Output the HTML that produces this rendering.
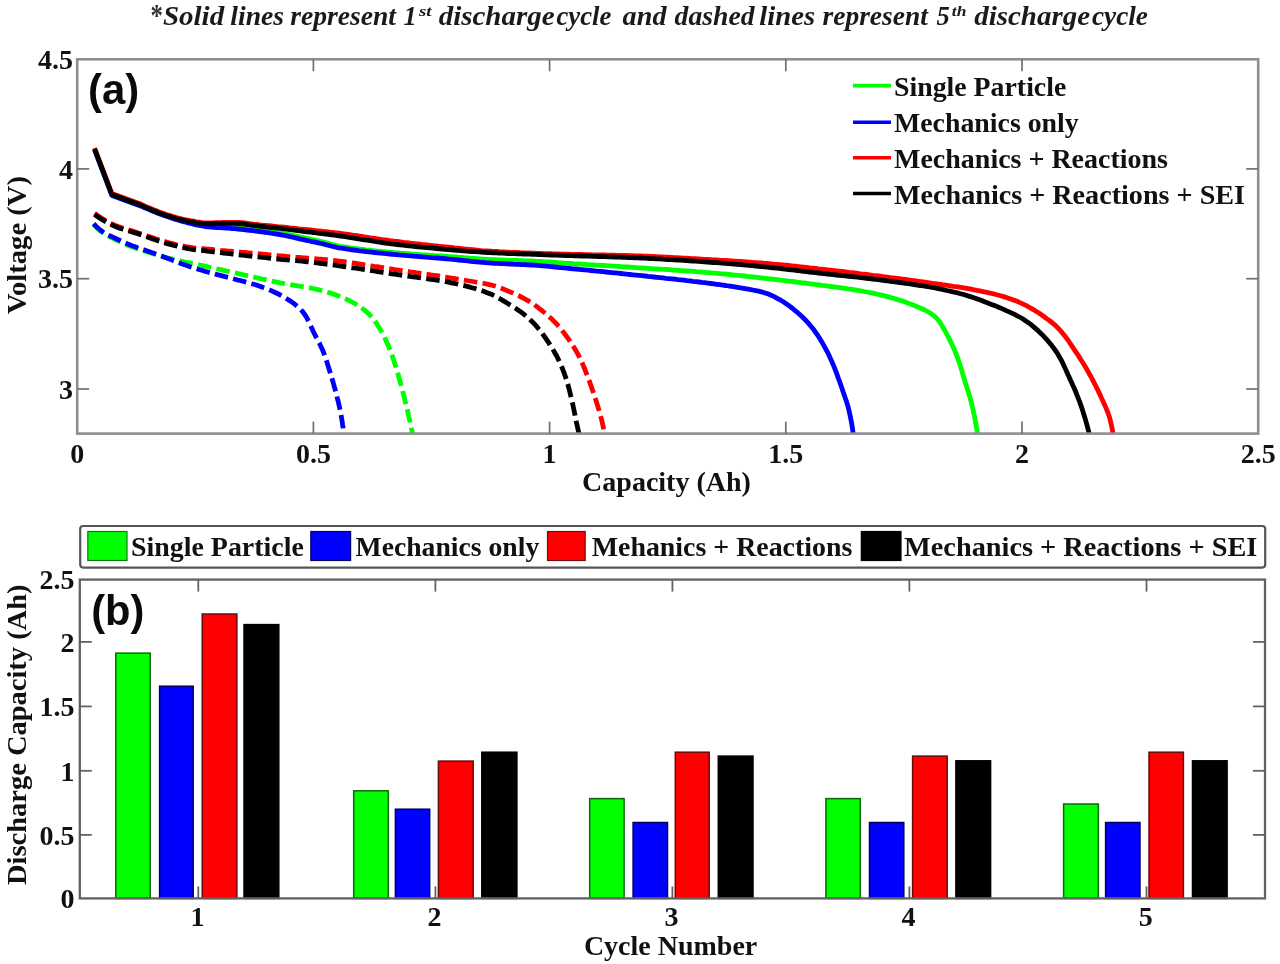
<!DOCTYPE html>
<html lang="en">
<head>
<meta charset="utf-8">
<title>Discharge curves and capacity per cycle</title>
<style>
html, body { margin: 0; padding: 0; background: #ffffff; }
body { width: 1280px; height: 964px; overflow: hidden; font-family: "Liberation Serif", serif; }
svg { display: block; filter: blur(0.55px); }
</style>
</head>
<body>
<svg width="1280" height="964" viewBox="0 0 1280 964">
<rect x="0" y="0" width="1280" height="964" fill="#ffffff"/>
<g font-family="'Liberation Serif', serif" font-weight="bold" font-style="italic" font-size="26.5" fill="#1a1a1a">
<text x="162.9" y="24.6" textLength="61.3" lengthAdjust="spacingAndGlyphs">Solid</text>
<text x="230.3" y="24.6" textLength="53.8" lengthAdjust="spacingAndGlyphs">lines</text>
<text x="290.2" y="24.6" textLength="105.7" lengthAdjust="spacingAndGlyphs">represent</text>
<text x="438.7" y="24.6" textLength="115.8" lengthAdjust="spacingAndGlyphs">discharge</text>
<text x="556.5" y="24.6" textLength="54.8" lengthAdjust="spacingAndGlyphs">cycle</text>
<text x="622.6" y="24.6" textLength="43.9" lengthAdjust="spacingAndGlyphs">and</text>
<text x="674.6" y="24.6" textLength="80.0" lengthAdjust="spacingAndGlyphs">dashed</text>
<text x="759.3" y="24.6" textLength="55.9" lengthAdjust="spacingAndGlyphs">lines</text>
<text x="822.6" y="24.6" textLength="105.2" lengthAdjust="spacingAndGlyphs">represent</text>
<text x="974.2" y="24.6" textLength="115.8" lengthAdjust="spacingAndGlyphs">discharge</text>
<text x="1092.0" y="24.6" textLength="55.9" lengthAdjust="spacingAndGlyphs">cycle</text>
<text x="150.4" y="26.0" font-weight="bold" font-style="normal" font-size="31" fill="#333333" textLength="12.4" lengthAdjust="spacingAndGlyphs">*</text>
<text x="403.5" y="24.6">1</text>
<text x="419" y="15.600000000000001" font-size="15.5" textLength="12.6" lengthAdjust="spacingAndGlyphs">st</text>
<text x="936.5" y="24.6">5</text>
<text x="951.8" y="15.600000000000001" font-size="15.5" textLength="14.6" lengthAdjust="spacingAndGlyphs">th</text>
</g>
<g id="plot-a">
<clipPath id="clipA"><rect x="77.2" y="59.3" width="1181.0" height="374.3"/></clipPath>
<g clip-path="url(#clipA)" fill="none" stroke-linejoin="round">
<path d="M94.6,149.5 L111.9,195.1 L141.9,206.1 L144.6,207.4 L147.4,208.6 L150.2,209.8 L152.9,211.0 L155.7,212.1 L158.6,213.2 L161.4,214.2 L164.2,215.2 L167.1,216.2 L169.9,217.1 L172.8,218.0 L175.7,218.9 L178.6,219.7 L181.5,220.4 L184.4,221.2 L187.4,221.9 L190.3,222.5 L193.3,223.2 L196.2,223.8 L199.2,224.4 L202.2,224.9 L205.1,225.3 L208.1,225.7 L211.1,225.9 L214.1,226.1 L217.1,226.3 L220.1,226.5 L223.1,226.6 L226.2,226.8 L229.2,227.0 L232.2,227.2 L235.2,227.4 L238.2,227.7 L241.2,228.0 L244.2,228.4 L247.2,228.7 L250.1,229.1 L253.1,229.5 L256.1,229.9 L259.1,230.3 L262.1,230.7 L265.1,231.0 L268.1,231.4 L271.1,231.8 L274.1,232.2 L277.1,232.6 L280.0,233.0 L283.0,233.5 L286.0,234.0 L288.9,234.5 L291.9,235.1 L294.8,235.8 L297.8,236.4 L300.7,237.1 L303.7,237.7 L306.6,238.3 L309.6,238.9 L312.5,239.5 L315.5,240.2 L318.4,240.8 L321.3,241.5 L324.3,242.3 L327.2,243.1 L330.1,243.9 L333.0,244.7 L335.9,245.4 L338.9,246.0 L341.8,246.5 L344.8,247.0 L347.7,247.4 L350.7,247.9 L353.7,248.3 L356.7,248.7 L359.7,249.1 L362.7,249.4 L365.7,249.8 L368.7,250.1 L371.7,250.5 L374.7,250.8 L377.7,251.1 L380.7,251.4 L383.7,251.7 L386.7,252.0 L389.7,252.2 L392.7,252.5 L395.7,252.8 L398.7,253.0 L401.7,253.3 L404.7,253.5 L407.7,253.7 L410.7,254.0 L413.7,254.2 L416.7,254.4 L419.7,254.6 L422.7,254.8 L425.7,255.0 L428.7,255.2 L431.8,255.4 L434.8,255.6 L437.8,255.8 L440.8,256.0 L443.8,256.2 L446.8,256.4 L449.8,256.6 L452.8,256.8 L455.8,257.0 L458.8,257.3 L461.8,257.5 L464.8,257.8 L467.8,258.0 L470.8,258.3 L473.8,258.5 L476.8,258.7 L479.8,258.9 L482.8,259.1 L485.8,259.3 L488.9,259.5 L491.9,259.6 L494.9,259.7 L497.9,259.9 L500.9,260.0 L503.9,260.1 L506.9,260.2 L509.9,260.3 L512.9,260.4 L515.9,260.5 L519.0,260.6 L522.0,260.7 L525.0,260.8 L528.0,260.9 L531.0,261.0 L534.0,261.1 L537.0,261.3 L540.0,261.4 L543.0,261.6 L546.0,261.8 L549.1,262.0 L552.1,262.2 L555.1,262.4 L558.1,262.7 L561.1,262.9 L564.1,263.1 L567.1,263.3 L570.1,263.5 L573.1,263.7 L576.1,263.8 L579.1,264.0 L582.1,264.2 L585.1,264.4 L588.1,264.6 L591.1,264.8 L594.1,265.0 L597.2,265.1 L600.2,265.3 L603.2,265.5 L606.2,265.7 L609.2,265.9 L612.2,266.1 L615.2,266.2 L618.2,266.4 L621.2,266.6 L624.2,266.8 L627.2,267.0 L630.2,267.2 L633.2,267.4 L636.2,267.6 L639.3,267.8 L642.3,268.0 L645.3,268.2 L648.3,268.4 L651.3,268.6 L654.3,268.8 L657.3,269.0 L660.3,269.2 L663.3,269.4 L666.3,269.5 L669.3,269.7 L672.3,270.0 L675.3,270.2 L678.3,270.4 L681.3,270.6 L684.4,270.8 L687.4,271.0 L690.4,271.2 L693.4,271.4 L696.4,271.7 L699.4,271.9 L702.4,272.1 L705.4,272.4 L708.4,272.6 L711.4,272.9 L714.4,273.1 L717.4,273.4 L720.4,273.7 L723.4,273.9 L726.4,274.2 L729.4,274.5 L732.4,274.8 L735.4,275.1 L738.4,275.4 L741.4,275.7 L744.4,276.0 L747.4,276.4 L750.4,276.7 L753.4,277.0 L756.4,277.3 L759.3,277.7 L762.3,278.0 L765.3,278.3 L768.3,278.7 L771.3,279.0 L774.3,279.3 L777.3,279.7 L780.3,280.1 L783.3,280.4 L786.3,280.8 L789.3,281.2 L792.3,281.5 L795.3,281.9 L798.2,282.3 L801.2,282.7 L804.2,283.0 L807.2,283.4 L810.2,283.8 L813.2,284.2 L816.2,284.6 L819.2,285.0 L822.1,285.4 L825.1,285.7 L828.1,286.1 L831.1,286.5 L834.1,286.9 L837.1,287.3 L840.1,287.7 L843.1,288.1 L846.1,288.5 L849.0,289.0 L852.0,289.4 L855.0,289.9 L857.9,290.4 L860.9,290.9 L863.9,291.5 L866.8,292.0 L869.8,292.6 L872.8,293.2 L875.7,293.9 L878.6,294.5 L881.6,295.2 L884.5,295.9 L887.4,296.6 L890.3,297.4 L893.3,298.2 L896.2,299.1 L899.1,300.0 L901.9,300.9 L904.8,301.8 L907.6,302.9 L910.4,303.9 L913.2,305.0 L916.1,306.2 L919.0,307.4 L921.9,308.7 L924.7,310.0 L927.4,311.5 L930.0,313.0 L932.4,314.6 L934.6,316.3 L936.6,318.2 L938.5,320.4 L940.3,322.8 L941.9,325.4 L943.5,328.2 L945.0,330.9 L946.5,333.7 L947.9,336.3 L949.3,339.0 L950.6,341.7 L952.0,344.4 L953.2,347.1 L954.4,349.9 L955.6,352.7 L956.7,355.5 L957.8,358.3 L958.7,361.1 L959.7,364.0 L960.6,366.9 L961.5,369.7 L962.4,372.6 L963.2,375.5 L964.1,378.4 L964.9,381.3 L965.8,384.2 L966.7,387.1 L967.7,389.9 L968.6,392.8 L969.5,395.7 L970.3,398.6 L971.1,401.5 L971.9,404.4 L972.5,407.3 L973.2,410.3 L973.8,413.2 L974.5,416.1 L975.0,419.1 L975.6,422.1 L976.1,425.0 L976.6,428.0 L977.1,431.0 L977.5,434.0" stroke="#00ff00" stroke-width="4.8"/>
<path d="M94.6,149.8 L111.9,195.4 L141.9,206.4 L144.7,207.7 L147.4,208.9 L150.2,210.1 L153.0,211.2 L155.8,212.4 L158.6,213.4 L161.4,214.5 L164.2,215.5 L167.1,216.5 L169.9,217.5 L172.8,218.4 L175.7,219.4 L178.6,220.2 L181.5,221.1 L184.4,221.8 L187.3,222.6 L190.2,223.3 L193.2,224.1 L196.1,224.8 L199.1,225.4 L202.0,226.0 L205.0,226.5 L208.0,226.8 L211.0,227.1 L214.0,227.4 L217.0,227.6 L220.0,227.7 L223.0,227.9 L226.0,228.1 L229.0,228.2 L232.0,228.5 L235.0,228.7 L238.0,229.0 L241.0,229.3 L244.0,229.6 L247.0,230.0 L250.0,230.3 L253.0,230.7 L256.0,231.1 L259.0,231.5 L262.0,231.9 L265.0,232.3 L268.0,232.7 L271.0,233.2 L273.9,233.6 L276.9,234.1 L279.9,234.6 L282.9,235.2 L285.8,235.7 L288.8,236.3 L291.7,237.0 L294.6,237.7 L297.6,238.4 L300.5,239.1 L303.4,239.7 L306.4,240.4 L309.4,241.0 L312.3,241.6 L315.3,242.2 L318.2,242.8 L321.2,243.5 L324.1,244.2 L327.0,245.0 L329.9,245.7 L332.9,246.5 L335.8,247.2 L338.7,247.8 L341.7,248.2 L344.7,248.7 L347.6,249.2 L350.6,249.6 L353.6,250.0 L356.6,250.4 L359.6,250.8 L362.6,251.1 L365.6,251.5 L368.6,251.8 L371.6,252.2 L374.6,252.5 L377.6,252.8 L380.6,253.1 L383.6,253.4 L386.6,253.7 L389.6,254.0 L392.6,254.3 L395.6,254.6 L398.6,254.9 L401.6,255.1 L404.6,255.4 L407.6,255.7 L410.6,255.9 L413.6,256.2 L416.6,256.4 L419.6,256.6 L422.7,256.9 L425.7,257.1 L428.7,257.3 L431.7,257.6 L434.7,257.8 L437.7,258.0 L440.7,258.3 L443.7,258.5 L446.7,258.8 L449.7,259.1 L452.7,259.4 L455.7,259.7 L458.7,260.0 L461.7,260.3 L464.7,260.6 L467.7,260.9 L470.7,261.3 L473.7,261.6 L476.7,261.9 L479.7,262.2 L482.7,262.4 L485.7,262.7 L488.7,262.9 L491.7,263.1 L494.7,263.3 L497.7,263.4 L500.8,263.6 L503.8,263.7 L506.8,263.9 L509.8,264.0 L512.8,264.2 L515.8,264.3 L518.8,264.4 L521.8,264.6 L524.9,264.7 L527.9,264.9 L530.9,265.0 L533.9,265.2 L536.9,265.4 L539.9,265.6 L542.9,265.8 L545.9,266.1 L548.9,266.4 L551.9,266.7 L554.9,267.0 L557.9,267.3 L560.9,267.6 L563.9,267.9 L566.9,268.2 L569.9,268.5 L572.9,268.8 L575.9,269.0 L578.9,269.3 L581.9,269.6 L584.9,269.9 L587.9,270.2 L590.9,270.5 L593.9,270.8 L596.9,271.1 L599.9,271.4 L602.9,271.7 L605.9,272.0 L608.9,272.3 L611.9,272.6 L614.9,272.9 L617.9,273.2 L620.9,273.5 L623.9,273.8 L626.9,274.2 L629.9,274.5 L632.9,274.8 L635.9,275.1 L638.9,275.4 L641.9,275.7 L644.9,276.0 L647.9,276.4 L650.9,276.7 L653.9,277.0 L656.9,277.3 L659.9,277.6 L662.9,277.9 L665.9,278.3 L668.9,278.6 L671.9,278.9 L674.9,279.2 L677.9,279.6 L680.9,279.9 L683.9,280.2 L686.9,280.6 L689.9,280.9 L692.9,281.3 L695.9,281.6 L698.9,282.0 L701.9,282.4 L704.9,282.7 L707.9,283.1 L710.8,283.5 L713.8,283.9 L716.8,284.3 L719.8,284.7 L722.8,285.1 L725.8,285.5 L728.8,286.0 L731.8,286.4 L734.8,286.8 L737.7,287.3 L740.7,287.8 L743.7,288.3 L746.6,288.8 L749.6,289.4 L752.6,290.0 L755.6,290.6 L758.5,291.2 L761.5,291.9 L764.3,292.7 L767.2,293.6 L770.0,294.7 L772.7,295.9 L775.5,297.3 L778.1,298.8 L780.7,300.2 L783.3,301.8 L785.8,303.5 L788.3,305.2 L790.7,307.0 L793.1,308.9 L795.4,310.8 L797.7,312.7 L800.0,314.8 L802.2,316.8 L804.4,319.0 L806.5,321.2 L808.6,323.4 L810.5,325.7 L812.4,328.0 L814.2,330.3 L815.9,332.8 L817.6,335.2 L819.3,337.8 L820.9,340.4 L822.4,343.0 L823.9,345.6 L825.4,348.3 L826.8,351.0 L828.2,353.7 L829.5,356.4 L830.7,359.1 L831.9,361.8 L833.1,364.6 L834.3,367.4 L835.4,370.2 L836.5,373.0 L837.5,375.9 L838.5,378.7 L839.6,381.6 L840.6,384.4 L841.6,387.3 L842.5,390.1 L843.5,393.0 L844.5,395.8 L845.5,398.7 L846.5,401.6 L847.4,404.5 L848.2,407.4 L848.9,410.3 L849.6,413.2 L850.2,416.1 L850.8,419.1 L851.4,422.0 L851.9,425.0 L852.4,428.0 L852.8,431.0 L853.2,434.0" stroke="#0000ff" stroke-width="4.8"/>
<path d="M94.6,148.0 L111.9,193.6 L141.9,204.6 L144.6,205.9 L147.4,207.1 L150.2,208.3 L153.0,209.5 L155.8,210.6 L158.6,211.7 L161.4,212.7 L164.2,213.7 L167.1,214.7 L170.0,215.6 L172.9,216.5 L175.8,217.4 L178.7,218.2 L181.6,218.9 L184.6,219.5 L187.5,220.1 L190.5,220.7 L193.5,221.2 L196.4,221.8 L199.4,222.2 L202.4,222.6 L205.4,222.8 L208.5,222.8 L211.5,222.8 L214.5,222.7 L217.5,222.6 L220.5,222.6 L223.5,222.5 L226.6,222.4 L229.6,222.3 L232.6,222.3 L235.6,222.3 L238.6,222.5 L241.6,222.7 L244.6,223.0 L247.6,223.4 L250.6,223.8 L253.6,224.2 L256.6,224.5 L259.6,224.9 L262.6,225.2 L265.6,225.4 L268.6,225.7 L271.6,226.0 L274.6,226.3 L277.6,226.6 L280.6,226.8 L283.6,227.1 L286.6,227.4 L289.6,227.8 L292.6,228.1 L295.6,228.4 L298.6,228.8 L301.6,229.1 L304.6,229.4 L307.6,229.7 L310.6,230.0 L313.6,230.3 L316.6,230.7 L319.6,231.0 L322.6,231.3 L325.6,231.6 L328.6,232.0 L331.6,232.3 L334.6,232.7 L337.6,233.0 L340.6,233.4 L343.6,233.8 L346.6,234.2 L349.6,234.6 L352.6,235.1 L355.5,235.5 L358.5,235.9 L361.5,236.4 L364.5,236.9 L367.5,237.3 L370.5,237.8 L373.4,238.2 L376.4,238.7 L379.4,239.1 L382.4,239.6 L385.4,240.0 L388.4,240.4 L391.4,240.8 L394.4,241.2 L397.3,241.5 L400.3,241.9 L403.3,242.3 L406.3,242.6 L409.3,243.0 L412.3,243.3 L415.3,243.7 L418.3,244.0 L421.3,244.4 L424.3,244.7 L427.3,245.0 L430.3,245.3 L433.3,245.7 L436.3,246.0 L439.3,246.3 L442.3,246.6 L445.3,246.9 L448.3,247.2 L451.3,247.5 L454.3,247.9 L457.3,248.2 L460.3,248.5 L463.3,248.8 L466.3,249.1 L469.3,249.4 L472.3,249.7 L475.3,250.0 L478.3,250.3 L481.3,250.6 L484.3,250.8 L487.4,251.0 L490.4,251.2 L493.4,251.4 L496.4,251.5 L499.4,251.7 L502.4,251.8 L505.4,252.0 L508.4,252.1 L511.4,252.3 L514.5,252.4 L517.5,252.5 L520.5,252.7 L523.5,252.8 L526.5,252.9 L529.5,253.0 L532.6,253.1 L535.6,253.2 L538.6,253.4 L541.6,253.5 L544.6,253.6 L547.6,253.6 L550.6,253.7 L553.7,253.8 L556.7,253.9 L559.7,254.0 L562.7,254.1 L565.7,254.1 L568.7,254.2 L571.8,254.3 L574.8,254.4 L577.8,254.4 L580.8,254.5 L583.8,254.6 L586.8,254.6 L589.9,254.7 L592.9,254.8 L595.9,254.8 L598.9,254.9 L601.9,254.9 L604.9,255.0 L608.0,255.1 L611.0,255.1 L614.0,255.2 L617.0,255.3 L620.0,255.4 L623.0,255.4 L626.0,255.5 L629.1,255.6 L632.1,255.7 L635.1,255.8 L638.1,255.9 L641.1,256.0 L644.1,256.1 L647.1,256.2 L650.2,256.4 L653.2,256.5 L656.2,256.6 L659.2,256.8 L662.2,256.9 L665.2,257.1 L668.2,257.2 L671.3,257.4 L674.3,257.6 L677.3,257.7 L680.3,257.9 L683.3,258.1 L686.3,258.2 L689.3,258.4 L692.3,258.6 L695.4,258.7 L698.4,258.9 L701.4,259.1 L704.4,259.3 L707.4,259.4 L710.4,259.6 L713.4,259.8 L716.4,260.0 L719.5,260.2 L722.5,260.3 L725.5,260.5 L728.5,260.7 L731.5,260.9 L734.5,261.1 L737.5,261.3 L740.5,261.5 L743.5,261.7 L746.5,261.9 L749.6,262.1 L752.6,262.4 L755.6,262.6 L758.6,262.8 L761.6,263.0 L764.6,263.3 L767.6,263.5 L770.6,263.8 L773.6,264.1 L776.6,264.3 L779.6,264.6 L782.6,264.9 L785.6,265.2 L788.6,265.5 L791.6,265.8 L794.6,266.1 L797.6,266.5 L800.6,266.8 L803.6,267.1 L806.6,267.4 L809.6,267.8 L812.6,268.1 L815.6,268.4 L818.6,268.8 L821.6,269.1 L824.6,269.4 L827.6,269.8 L830.6,270.1 L833.6,270.5 L836.6,270.8 L839.6,271.2 L842.6,271.5 L845.6,271.9 L848.6,272.3 L851.6,272.6 L854.6,273.0 L857.6,273.4 L860.6,273.8 L863.6,274.1 L866.5,274.5 L869.5,274.9 L872.5,275.3 L875.5,275.6 L878.5,276.0 L881.5,276.4 L884.5,276.8 L887.5,277.2 L890.5,277.6 L893.5,277.9 L896.5,278.3 L899.5,278.7 L902.5,279.1 L905.4,279.5 L908.4,279.9 L911.4,280.3 L914.4,280.7 L917.4,281.2 L920.4,281.6 L923.4,282.0 L926.4,282.4 L929.3,282.8 L932.3,283.3 L935.3,283.7 L938.3,284.1 L941.3,284.5 L944.3,285.0 L947.3,285.4 L950.3,285.8 L953.3,286.3 L956.2,286.7 L959.2,287.2 L962.2,287.7 L965.2,288.2 L968.1,288.7 L971.1,289.2 L974.1,289.8 L977.0,290.4 L980.0,290.9 L983.0,291.6 L985.9,292.2 L988.9,292.8 L991.8,293.5 L994.8,294.2 L997.7,295.0 L1000.6,295.8 L1003.5,296.6 L1006.3,297.4 L1009.2,298.4 L1012.1,299.4 L1014.9,300.5 L1017.7,301.6 L1020.5,302.9 L1023.2,304.1 L1025.9,305.4 L1028.5,306.8 L1031.2,308.3 L1033.8,309.8 L1036.4,311.5 L1038.9,313.1 L1041.4,314.8 L1043.9,316.5 L1046.3,318.3 L1048.8,320.1 L1051.2,322.0 L1053.5,323.9 L1055.8,325.9 L1057.9,328.0 L1060.0,330.1 L1061.9,332.4 L1063.8,334.7 L1065.7,337.1 L1067.5,339.5 L1069.2,342.0 L1070.9,344.6 L1072.6,347.1 L1074.3,349.6 L1076.0,352.1 L1077.7,354.6 L1079.3,357.1 L1080.9,359.7 L1082.5,362.2 L1084.1,364.8 L1085.7,367.4 L1087.2,370.0 L1088.7,372.6 L1090.1,375.3 L1091.6,377.9 L1093.0,380.6 L1094.4,383.3 L1095.8,386.0 L1097.1,388.7 L1098.4,391.4 L1099.7,394.1 L1101.0,396.9 L1102.2,399.6 L1103.5,402.3 L1104.7,405.1 L1106.0,407.9 L1107.1,410.7 L1108.2,413.5 L1109.2,416.3 L1110.0,419.2 L1110.7,422.1 L1111.4,425.0 L1112.0,428.0 L1112.6,431.0 L1113.0,434.0" stroke="#ff0000" stroke-width="4.8"/>
<path d="M94.6,149.0 L111.9,194.6 L141.9,205.6 L144.6,206.9 L147.4,208.1 L150.2,209.3 L153.0,210.5 L155.8,211.6 L158.6,212.7 L161.4,213.7 L164.2,214.7 L167.1,215.7 L170.0,216.6 L172.9,217.5 L175.8,218.4 L178.7,219.2 L181.6,219.9 L184.6,220.5 L187.5,221.1 L190.5,221.7 L193.5,222.2 L196.5,222.8 L199.5,223.2 L202.5,223.6 L205.5,223.8 L208.5,223.8 L211.5,223.8 L214.5,223.7 L217.5,223.6 L220.5,223.6 L223.6,223.5 L226.6,223.4 L229.6,223.3 L232.6,223.3 L235.6,223.3 L238.6,223.5 L241.6,223.8 L244.6,224.1 L247.6,224.5 L250.6,225.0 L253.6,225.4 L256.6,225.8 L259.6,226.2 L262.6,226.5 L265.6,226.9 L268.6,227.2 L271.6,227.5 L274.6,227.8 L277.6,228.1 L280.6,228.4 L283.6,228.8 L286.6,229.1 L289.6,229.5 L292.6,229.9 L295.6,230.3 L298.6,230.7 L301.6,231.1 L304.5,231.5 L307.5,231.8 L310.5,232.2 L313.5,232.6 L316.5,232.9 L319.5,233.3 L322.5,233.7 L325.5,234.0 L328.5,234.4 L331.5,234.8 L334.5,235.2 L337.5,235.6 L340.5,236.0 L343.5,236.4 L346.4,236.9 L349.4,237.4 L352.4,237.8 L355.4,238.3 L358.4,238.8 L361.3,239.3 L364.3,239.8 L367.3,240.2 L370.3,240.7 L373.3,241.2 L376.2,241.7 L379.2,242.1 L382.2,242.6 L385.2,243.0 L388.2,243.4 L391.2,243.8 L394.2,244.1 L397.2,244.5 L400.2,244.9 L403.2,245.2 L406.1,245.5 L409.1,245.8 L412.1,246.2 L415.2,246.5 L418.2,246.8 L421.2,247.1 L424.2,247.4 L427.2,247.7 L430.2,247.9 L433.2,248.2 L436.2,248.5 L439.2,248.8 L442.2,249.0 L445.2,249.3 L448.2,249.5 L451.2,249.8 L454.2,250.1 L457.2,250.3 L460.2,250.6 L463.2,250.8 L466.3,251.1 L469.3,251.3 L472.3,251.5 L475.3,251.7 L478.3,251.9 L481.3,252.1 L484.3,252.3 L487.3,252.5 L490.3,252.6 L493.3,252.8 L496.4,252.9 L499.4,253.1 L502.4,253.2 L505.4,253.3 L508.4,253.5 L511.4,253.6 L514.4,253.7 L517.5,253.8 L520.5,253.9 L523.5,254.0 L526.5,254.1 L529.5,254.2 L532.5,254.3 L535.6,254.4 L538.6,254.5 L541.6,254.7 L544.6,254.8 L547.6,254.9 L550.6,255.0 L553.7,255.1 L556.7,255.2 L559.7,255.3 L562.7,255.4 L565.7,255.5 L568.7,255.6 L571.7,255.7 L574.8,255.8 L577.8,255.9 L580.8,256.0 L583.8,256.0 L586.8,256.1 L589.8,256.2 L592.9,256.3 L595.9,256.4 L598.9,256.5 L601.9,256.6 L604.9,256.7 L607.9,256.8 L611.0,256.9 L614.0,257.0 L617.0,257.1 L620.0,257.2 L623.0,257.3 L626.0,257.4 L629.0,257.5 L632.1,257.6 L635.1,257.8 L638.1,257.9 L641.1,258.0 L644.1,258.2 L647.1,258.3 L650.1,258.5 L653.2,258.6 L656.2,258.8 L659.2,258.9 L662.2,259.1 L665.2,259.3 L668.2,259.5 L671.2,259.7 L674.2,259.8 L677.3,260.0 L680.3,260.2 L683.3,260.4 L686.3,260.6 L689.3,260.8 L692.3,261.0 L695.3,261.2 L698.3,261.4 L701.3,261.6 L704.4,261.9 L707.4,262.1 L710.4,262.3 L713.4,262.5 L716.4,262.7 L719.4,262.9 L722.4,263.2 L725.4,263.4 L728.4,263.6 L731.4,263.9 L734.4,264.1 L737.5,264.4 L740.5,264.6 L743.5,264.9 L746.5,265.2 L749.5,265.4 L752.5,265.7 L755.5,266.0 L758.5,266.3 L761.5,266.6 L764.5,266.9 L767.5,267.1 L770.5,267.5 L773.5,267.8 L776.5,268.1 L779.5,268.4 L782.5,268.8 L785.5,269.1 L788.5,269.5 L791.5,269.9 L794.5,270.2 L797.5,270.6 L800.5,270.9 L803.5,271.3 L806.5,271.7 L809.5,272.0 L812.5,272.4 L815.5,272.7 L818.5,273.0 L821.5,273.4 L824.5,273.7 L827.5,274.0 L830.5,274.4 L833.5,274.7 L836.5,275.0 L839.5,275.3 L842.5,275.6 L845.5,275.9 L848.5,276.3 L851.5,276.6 L854.5,276.9 L857.5,277.2 L860.5,277.6 L863.5,277.9 L866.4,278.3 L869.4,278.6 L872.4,279.0 L875.4,279.4 L878.4,279.7 L881.4,280.1 L884.4,280.5 L887.4,280.9 L890.4,281.3 L893.4,281.7 L896.4,282.1 L899.4,282.5 L902.4,282.9 L905.4,283.3 L908.3,283.7 L911.3,284.2 L914.3,284.6 L917.3,285.1 L920.3,285.5 L923.3,286.0 L926.2,286.5 L929.2,287.0 L932.2,287.5 L935.1,288.0 L938.1,288.6 L941.1,289.2 L944.0,289.8 L947.0,290.5 L949.9,291.1 L952.9,291.8 L955.8,292.5 L958.7,293.2 L961.6,294.0 L964.6,294.8 L967.4,295.7 L970.3,296.6 L973.2,297.5 L976.0,298.5 L978.9,299.6 L981.7,300.6 L984.5,301.7 L987.3,302.8 L990.1,303.9 L993.0,305.0 L995.8,306.1 L998.6,307.2 L1001.3,308.4 L1004.1,309.6 L1006.8,310.9 L1009.6,312.1 L1012.4,313.4 L1015.1,314.7 L1017.8,316.1 L1020.4,317.5 L1023.0,319.0 L1025.5,320.7 L1028.0,322.4 L1030.4,324.2 L1032.8,326.1 L1035.1,328.1 L1037.4,330.1 L1039.6,332.2 L1041.7,334.2 L1043.8,336.4 L1045.9,338.6 L1047.9,340.9 L1049.9,343.2 L1051.8,345.6 L1053.6,348.0 L1055.4,350.5 L1057.1,352.9 L1058.6,355.5 L1060.1,358.1 L1061.5,360.7 L1062.9,363.4 L1064.2,366.2 L1065.4,368.9 L1066.7,371.7 L1067.9,374.5 L1069.2,377.2 L1070.4,380.0 L1071.7,382.7 L1072.9,385.5 L1074.2,388.2 L1075.4,391.0 L1076.5,393.8 L1077.6,396.6 L1078.7,399.4 L1079.8,402.2 L1080.8,405.1 L1081.8,407.9 L1082.7,410.8 L1083.6,413.7 L1084.5,416.5 L1085.4,419.4 L1086.2,422.3 L1087.0,425.2 L1087.8,428.1 L1088.6,431.1 L1089.3,434.0" stroke="#000000" stroke-width="4.8"/>
<path d="M93.6,224.3 L95.7,226.6 L97.8,228.8 L100.1,230.8 L102.5,232.6 L105.0,234.3 L107.6,235.7 L110.3,237.1 L113.1,238.4 L115.8,239.8 L118.6,241.1 L121.3,242.4 L124.1,243.6 L126.9,244.9 L129.7,246.0 L132.5,247.1 L135.3,248.1 L138.2,249.1 L141.1,250.1 L144.0,251.0 L146.9,251.9 L149.8,252.7 L152.7,253.6 L155.6,254.5 L158.5,255.4 L161.5,256.3 L164.4,257.1 L167.3,257.9 L170.2,258.6 L173.2,259.3 L176.2,260.0 L179.1,260.7 L182.1,261.3 L185.1,262.0 L188.0,262.6 L191.0,263.2 L194.0,263.8 L196.9,264.4 L199.9,265.1 L202.9,265.7 L205.8,266.3 L208.8,267.0 L211.8,267.6 L214.7,268.3 L217.7,269.0 L220.7,269.6 L223.6,270.3 L226.6,271.0 L229.5,271.6 L232.5,272.3 L235.5,273.0 L238.4,273.7 L241.4,274.3 L244.3,275.0 L247.3,275.7 L250.3,276.3 L253.2,277.0 L256.2,277.7 L259.2,278.3 L262.1,279.0 L265.1,279.6 L268.1,280.3 L271.0,280.9 L274.0,281.6 L277.0,282.2 L279.9,282.8 L282.9,283.4 L285.9,283.9 L288.9,284.4 L291.9,284.9 L294.9,285.4 L297.9,285.8 L300.9,286.4 L303.9,286.9 L306.9,287.4 L309.9,287.9 L312.8,288.5 L315.8,289.1 L318.8,289.8 L321.7,290.5 L324.6,291.3 L327.5,292.2 L330.4,293.1 L333.3,294.1 L336.2,295.1 L339.0,296.2 L341.9,297.3 L344.7,298.5 L347.5,299.7 L350.2,301.1 L352.8,302.5 L355.5,304.0 L358.1,305.6 L360.7,307.3 L363.2,309.1 L365.6,311.0 L367.8,313.0 L369.9,315.0 L371.9,317.3 L373.8,319.7 L375.6,322.2 L377.3,324.7 L378.9,327.3 L380.5,329.9 L382.0,332.6 L383.4,335.2 L384.8,338.0 L386.1,340.7 L387.3,343.5 L388.5,346.3 L389.7,349.1 L390.8,351.9 L391.8,354.8 L392.8,357.6 L393.8,360.5 L394.7,363.4 L395.7,366.3 L396.6,369.2 L397.4,372.1 L398.3,375.0 L399.1,377.9 L399.9,380.9 L400.7,383.8 L401.5,386.7 L402.3,389.7 L403.0,392.6 L403.8,395.5 L404.5,398.5 L405.2,401.4 L406.0,404.4 L406.7,407.3 L407.4,410.3 L408.1,413.2 L408.7,416.2 L409.4,419.2 L410.1,422.1 L410.7,425.1 L411.4,428.1 L412.0,431.0 L412.6,434.0" stroke="#00ff00" stroke-width="4.8" stroke-dasharray="13.6 5.3"/>
<path d="M93.6,223.6 L95.7,225.9 L97.9,228.0 L100.2,230.0 L102.7,231.8 L105.2,233.3 L107.9,234.8 L110.6,236.1 L113.4,237.4 L116.2,238.7 L118.9,240.0 L121.7,241.3 L124.5,242.6 L127.3,243.8 L130.1,244.9 L132.9,246.1 L135.7,247.1 L138.6,248.1 L141.5,249.1 L144.4,250.0 L147.3,251.0 L150.2,252.0 L153.0,253.0 L155.9,254.0 L158.8,255.1 L161.6,256.1 L164.5,257.2 L167.3,258.2 L170.2,259.3 L173.0,260.4 L175.9,261.5 L178.7,262.6 L181.5,263.7 L184.4,264.7 L187.3,265.7 L190.1,266.7 L193.0,267.6 L195.9,268.6 L198.9,269.5 L201.8,270.3 L204.7,271.2 L207.6,272.0 L210.5,272.8 L213.5,273.6 L216.4,274.4 L219.4,275.1 L222.3,275.9 L225.3,276.7 L228.2,277.4 L231.2,278.2 L234.1,279.0 L237.0,279.8 L240.0,280.5 L243.0,281.3 L245.9,282.1 L248.9,282.9 L251.8,283.7 L254.7,284.5 L257.6,285.4 L260.5,286.4 L263.3,287.5 L266.2,288.5 L269.0,289.7 L271.8,290.9 L274.6,292.2 L277.4,293.5 L280.1,294.9 L282.8,296.4 L285.4,297.9 L287.9,299.5 L290.5,301.1 L293.0,302.9 L295.5,304.9 L297.9,306.9 L300.2,309.0 L302.2,311.1 L304.0,313.4 L305.6,315.8 L307.1,318.4 L308.5,321.1 L309.8,324.0 L311.1,326.8 L312.4,329.6 L313.7,332.4 L315.1,335.1 L316.5,337.8 L317.9,340.5 L319.4,343.2 L320.7,346.0 L322.0,348.7 L323.2,351.5 L324.3,354.3 L325.3,357.2 L326.3,360.1 L327.2,363.0 L328.1,365.9 L329.0,368.8 L329.9,371.7 L330.8,374.6 L331.7,377.5 L332.6,380.5 L333.4,383.4 L334.2,386.3 L335.0,389.2 L335.8,392.2 L336.6,395.1 L337.3,398.1 L338.1,401.0 L338.8,404.0 L339.4,407.0 L340.0,409.9 L340.6,412.9 L341.2,415.9 L341.7,418.9 L342.2,421.9 L342.6,424.9 L343.1,427.9 L343.4,431.0 L343.8,434.0" stroke="#0000ff" stroke-width="4.8" stroke-dasharray="13.6 5.3"/>
<path d="M94.6,213.3 L97.1,215.1 L99.6,216.9 L102.2,218.5 L104.8,220.1 L107.4,221.6 L110.0,223.0 L112.7,224.3 L115.5,225.5 L118.2,226.5 L121.1,227.5 L124.0,228.4 L126.9,229.3 L129.8,230.2 L132.7,231.1 L135.6,232.0 L138.4,233.0 L141.3,233.9 L144.2,234.9 L147.0,235.9 L149.9,236.8 L152.8,237.7 L155.6,238.7 L158.5,239.6 L161.4,240.5 L164.3,241.4 L167.2,242.2 L170.1,243.0 L173.0,243.7 L176.0,244.5 L178.9,245.2 L181.9,245.8 L184.8,246.4 L187.8,247.0 L190.8,247.4 L193.8,247.8 L196.8,248.1 L199.8,248.4 L202.8,248.7 L205.8,249.0 L208.8,249.2 L211.8,249.5 L214.8,249.8 L217.8,250.1 L220.8,250.4 L223.8,250.6 L226.9,250.9 L229.9,251.1 L232.9,251.4 L235.9,251.7 L238.9,252.0 L241.9,252.3 L244.9,252.5 L247.9,252.8 L250.9,253.1 L253.9,253.4 L256.9,253.7 L259.9,253.9 L262.9,254.2 L265.9,254.5 L269.0,254.8 L272.0,255.0 L275.0,255.3 L278.0,255.6 L281.0,255.8 L284.0,256.1 L287.0,256.4 L290.0,256.6 L293.0,256.8 L296.0,257.1 L299.0,257.3 L302.1,257.6 L305.1,257.8 L308.1,258.1 L311.1,258.3 L314.1,258.6 L317.1,258.9 L320.1,259.1 L323.1,259.4 L326.1,259.7 L329.1,260.0 L332.1,260.3 L335.1,260.6 L338.1,261.0 L341.1,261.3 L344.1,261.7 L347.1,262.1 L350.1,262.5 L353.1,263.0 L356.1,263.4 L359.1,263.9 L362.0,264.3 L365.0,264.8 L368.0,265.3 L371.0,265.8 L374.0,266.3 L377.0,266.7 L379.9,267.2 L382.9,267.7 L385.9,268.2 L388.9,268.7 L391.9,269.1 L394.9,269.6 L397.9,270.0 L400.8,270.5 L403.8,270.9 L406.8,271.3 L409.8,271.8 L412.8,272.2 L415.8,272.7 L418.8,273.1 L421.8,273.5 L424.7,274.0 L427.7,274.4 L430.7,274.9 L433.7,275.3 L436.7,275.7 L439.7,276.2 L442.7,276.7 L445.6,277.1 L448.6,277.6 L451.6,278.1 L454.6,278.5 L457.6,279.0 L460.6,279.5 L463.5,280.0 L466.5,280.5 L469.5,281.0 L472.5,281.5 L475.5,282.0 L478.5,282.5 L481.4,283.0 L484.4,283.5 L487.4,284.1 L490.3,284.8 L493.2,285.5 L496.1,286.4 L498.9,287.4 L501.8,288.5 L504.6,289.6 L507.4,290.8 L510.2,291.9 L513.0,293.1 L515.7,294.4 L518.5,295.6 L521.2,297.0 L523.9,298.4 L526.5,299.8 L529.1,301.3 L531.6,302.9 L534.1,304.6 L536.6,306.4 L539.0,308.3 L541.4,310.1 L543.7,312.0 L546.1,314.0 L548.3,316.0 L550.6,318.0 L552.8,320.1 L554.9,322.2 L557.0,324.4 L559.0,326.7 L560.9,329.0 L562.8,331.4 L564.6,333.8 L566.4,336.2 L568.2,338.7 L569.9,341.2 L571.5,343.7 L573.2,346.2 L574.8,348.8 L576.3,351.4 L577.8,354.0 L579.2,356.7 L580.5,359.4 L581.8,362.1 L583.0,364.9 L584.2,367.7 L585.3,370.5 L586.4,373.3 L587.5,376.2 L588.5,379.0 L589.6,381.8 L590.6,384.6 L591.6,387.5 L592.6,390.4 L593.6,393.2 L594.5,396.1 L595.5,399.0 L596.4,401.8 L597.3,404.7 L598.2,407.6 L599.1,410.5 L599.9,413.4 L600.7,416.3 L601.5,419.2 L602.2,422.2 L602.8,425.1 L603.5,428.1 L604.1,431.0 L604.6,434.0" stroke="#ff0000" stroke-width="4.8" stroke-dasharray="13.6 5.3"/>
<path d="M94.6,214.5 L97.1,216.3 L99.6,218.0 L102.2,219.7 L104.8,221.2 L107.4,222.7 L110.1,224.1 L112.8,225.4 L115.5,226.6 L118.3,227.7 L121.2,228.6 L124.1,229.5 L127.0,230.4 L129.9,231.3 L132.8,232.2 L135.7,233.1 L138.5,234.1 L141.4,235.1 L144.2,236.1 L147.1,237.1 L149.9,238.0 L152.8,239.0 L155.7,239.9 L158.6,240.9 L161.4,241.8 L164.3,242.7 L167.2,243.6 L170.1,244.4 L173.0,245.2 L176.0,245.9 L178.9,246.7 L181.8,247.4 L184.8,248.0 L187.8,248.6 L190.7,249.1 L193.7,249.5 L196.7,249.9 L199.7,250.3 L202.7,250.6 L205.7,250.9 L208.7,251.3 L211.7,251.7 L214.7,252.0 L217.7,252.4 L220.7,252.7 L223.7,253.1 L226.7,253.4 L229.7,253.7 L232.7,254.1 L235.8,254.4 L238.8,254.8 L241.8,255.1 L244.8,255.4 L247.8,255.8 L250.8,256.1 L253.8,256.4 L256.8,256.8 L259.8,257.1 L262.8,257.4 L265.8,257.7 L268.8,258.1 L271.8,258.4 L274.8,258.7 L277.8,259.0 L280.8,259.3 L283.8,259.6 L286.8,259.9 L289.8,260.1 L292.9,260.4 L295.9,260.6 L298.9,260.9 L301.9,261.2 L304.9,261.5 L307.9,261.8 L310.9,262.2 L313.9,262.5 L316.9,262.9 L319.9,263.3 L322.9,263.7 L325.9,264.1 L328.9,264.4 L331.9,264.8 L334.9,265.2 L337.9,265.7 L340.9,266.1 L343.9,266.5 L346.8,266.9 L349.8,267.3 L352.8,267.8 L355.8,268.2 L358.8,268.7 L361.8,269.1 L364.8,269.6 L367.8,270.1 L370.7,270.5 L373.7,271.0 L376.7,271.5 L379.7,271.9 L382.7,272.4 L385.7,272.9 L388.7,273.3 L391.7,273.8 L394.6,274.2 L397.6,274.7 L400.6,275.1 L403.6,275.5 L406.6,275.9 L409.6,276.4 L412.6,276.8 L415.6,277.2 L418.6,277.6 L421.6,278.0 L424.6,278.4 L427.6,278.9 L430.6,279.3 L433.6,279.7 L436.6,280.2 L439.5,280.7 L442.5,281.2 L445.5,281.7 L448.5,282.2 L451.4,282.8 L454.4,283.4 L457.3,284.0 L460.3,284.7 L463.2,285.4 L466.2,286.1 L469.1,286.9 L472.0,287.7 L474.9,288.5 L477.8,289.4 L480.7,290.3 L483.6,291.3 L486.4,292.4 L489.2,293.5 L492.0,294.6 L494.7,295.9 L497.3,297.3 L500.0,298.8 L502.6,300.4 L505.2,301.9 L507.8,303.5 L510.4,305.1 L513.0,306.7 L515.5,308.3 L518.0,310.0 L520.5,311.7 L522.9,313.5 L525.2,315.4 L527.5,317.4 L529.8,319.4 L532.0,321.5 L534.1,323.7 L536.2,325.9 L538.1,328.2 L540.0,330.5 L541.9,332.9 L543.7,335.4 L545.4,337.9 L547.1,340.4 L548.8,342.9 L550.4,345.4 L552.1,348.0 L553.6,350.6 L555.1,353.2 L556.6,355.8 L557.9,358.5 L559.2,361.2 L560.5,364.0 L561.7,366.8 L562.8,369.6 L563.9,372.4 L564.9,375.3 L565.9,378.1 L566.8,381.0 L567.7,383.9 L568.5,386.8 L569.3,389.7 L570.0,392.7 L570.7,395.6 L571.5,398.5 L572.1,401.5 L572.8,404.4 L573.4,407.4 L574.0,410.3 L574.6,413.3 L575.2,416.3 L575.8,419.2 L576.4,422.2 L577.1,425.1 L577.7,428.1 L578.4,431.0 L579.0,434.0" stroke="#000000" stroke-width="4.8" stroke-dasharray="13.6 5.3"/>
</g>
<rect x="77.2" y="59.3" width="1181.0" height="374.3" fill="none" stroke="#8f8f8f" stroke-width="2.6"/>
<g stroke="#707070" stroke-width="1.7">
<line x1="313.4" y1="433.6" x2="313.4" y2="421.6"/>
<line x1="313.4" y1="59.3" x2="313.4" y2="71.3"/>
<line x1="549.6" y1="433.6" x2="549.6" y2="421.6"/>
<line x1="549.6" y1="59.3" x2="549.6" y2="71.3"/>
<line x1="785.8" y1="433.6" x2="785.8" y2="421.6"/>
<line x1="785.8" y1="59.3" x2="785.8" y2="71.3"/>
<line x1="1022.0" y1="433.6" x2="1022.0" y2="421.6"/>
<line x1="1022.0" y1="59.3" x2="1022.0" y2="71.3"/>
<line x1="77.2" y1="389.0" x2="89.2" y2="389.0"/>
<line x1="1258.2" y1="389.0" x2="1246.2" y2="389.0"/>
<line x1="77.2" y1="278.7" x2="89.2" y2="278.7"/>
<line x1="1258.2" y1="278.7" x2="1246.2" y2="278.7"/>
<line x1="77.2" y1="168.9" x2="89.2" y2="168.9"/>
<line x1="1258.2" y1="168.9" x2="1246.2" y2="168.9"/>
</g>
<g font-family="'Liberation Serif', serif" font-weight="bold" font-size="28.0" fill="#111111">
<text x="73" y="68.8" text-anchor="end">4.5</text>
<text x="73" y="178.5" text-anchor="end">4</text>
<text x="73" y="288.3" text-anchor="end">3.5</text>
<text x="73" y="398.6" text-anchor="end">3</text>
<text x="77.2" y="463.2" text-anchor="middle">0</text>
<text x="313.4" y="463.2" text-anchor="middle">0.5</text>
<text x="549.6" y="463.2" text-anchor="middle">1</text>
<text x="785.8" y="463.2" text-anchor="middle">1.5</text>
<text x="1022.0" y="463.2" text-anchor="middle">2</text>
<text x="1258.2" y="463.2" text-anchor="middle">2.5</text>
<text x="666.5" y="491.4" text-anchor="middle">Capacity (Ah)</text>
<text transform="translate(25.5,314) rotate(-90)" textLength="138" lengthAdjust="spacingAndGlyphs">Voltage (V)</text>
<text x="894" y="95.6" textLength="172.3" lengthAdjust="spacingAndGlyphs">Single Particle</text>
<text x="894" y="132.3" textLength="184.7" lengthAdjust="spacingAndGlyphs">Mechanics only</text>
<text x="894" y="167.8" textLength="274" lengthAdjust="spacingAndGlyphs">Mechanics + Reactions</text>
<text x="894" y="203.5" textLength="351" lengthAdjust="spacingAndGlyphs">Mechanics + Reactions + SEI</text>
</g>
<line x1="853" y1="85.6" x2="891" y2="85.6" stroke="#00ff00" stroke-width="3.6"/>
<line x1="853" y1="122.3" x2="891" y2="122.3" stroke="#0000ff" stroke-width="3.6"/>
<line x1="853" y1="157.8" x2="891" y2="157.8" stroke="#ff0000" stroke-width="3.6"/>
<line x1="853" y1="193.5" x2="891" y2="193.5" stroke="#000000" stroke-width="3.6"/>
<text x="88.0" y="104.2" font-family="'Liberation Sans', sans-serif" font-weight="bold" font-size="42" fill="#0a0a0a" textLength="51.2" lengthAdjust="spacingAndGlyphs">(a)</text>
</g>
<g id="plot-b">
<rect x="80.2" y="526" width="1185" height="41.6" rx="3" ry="3" fill="#ffffff" stroke="#555555" stroke-width="2.2"/>
<rect x="87.8" y="531.5" width="39.2" height="29" fill="#00ff00" stroke="#0a7a0a" stroke-width="1.2"/>
<rect x="310.8" y="531.5" width="39.8" height="29" fill="#0000ff" stroke="#00006e" stroke-width="1.2"/>
<rect x="547.5" y="531.5" width="37.7" height="29" fill="#ff0000" stroke="#7a0a0a" stroke-width="1.2"/>
<rect x="861.3" y="531.5" width="39.7" height="29" fill="#000000" stroke="#000000" stroke-width="1.2"/>
<g font-family="'Liberation Serif', serif" font-weight="bold" font-size="28.0" fill="#111111">
<text x="131" y="556.4" textLength="172.8" lengthAdjust="spacingAndGlyphs">Single Particle</text>
<text x="355.5" y="556.4" textLength="183.8" lengthAdjust="spacingAndGlyphs">Mechanics only</text>
<text x="591.7" y="556.4" textLength="260.6" lengthAdjust="spacingAndGlyphs">Mehanics + Reactions</text>
<text x="904" y="556.4" textLength="353.3" lengthAdjust="spacingAndGlyphs">Mechanics + Reactions + SEI</text>
</g>
<rect x="115.8" y="653.1" width="34.4" height="245.3" fill="#00ff00" stroke="#0a6a0a" stroke-width="1.5"/>
<rect x="159.6" y="686.2" width="33.6" height="212.2" fill="#0000ff" stroke="#000060" stroke-width="1.5"/>
<rect x="202.2" y="614.0" width="34.7" height="284.4" fill="#ff0000" stroke="#6a0a0a" stroke-width="1.5"/>
<rect x="244.0" y="624.6" width="34.8" height="273.8" fill="#000000" stroke="#000000" stroke-width="1.5"/>
<rect x="353.7" y="790.8" width="34.6" height="107.6" fill="#00ff00" stroke="#0a6a0a" stroke-width="1.5"/>
<rect x="395.4" y="809.2" width="34.3" height="89.2" fill="#0000ff" stroke="#000060" stroke-width="1.5"/>
<rect x="438.4" y="761.1" width="34.8" height="137.3" fill="#ff0000" stroke="#6a0a0a" stroke-width="1.5"/>
<rect x="481.8" y="752.2" width="35.1" height="146.2" fill="#000000" stroke="#000000" stroke-width="1.5"/>
<rect x="589.7" y="798.6" width="34.4" height="99.8" fill="#00ff00" stroke="#0a6a0a" stroke-width="1.5"/>
<rect x="633.1" y="822.5" width="34.4" height="75.9" fill="#0000ff" stroke="#000060" stroke-width="1.5"/>
<rect x="675.3" y="752.2" width="33.9" height="146.2" fill="#ff0000" stroke="#6a0a0a" stroke-width="1.5"/>
<rect x="718.3" y="756.1" width="34.7" height="142.3" fill="#000000" stroke="#000000" stroke-width="1.5"/>
<rect x="825.9" y="798.6" width="34.4" height="99.8" fill="#00ff00" stroke="#0a6a0a" stroke-width="1.5"/>
<rect x="869.5" y="822.5" width="34.3" height="75.9" fill="#0000ff" stroke="#000060" stroke-width="1.5"/>
<rect x="912.6" y="756.1" width="34.6" height="142.3" fill="#ff0000" stroke="#6a0a0a" stroke-width="1.5"/>
<rect x="955.9" y="760.8" width="34.7" height="137.6" fill="#000000" stroke="#000000" stroke-width="1.5"/>
<rect x="1063.6" y="804.0" width="34.7" height="94.4" fill="#00ff00" stroke="#0a6a0a" stroke-width="1.5"/>
<rect x="1105.6" y="822.5" width="34.4" height="75.9" fill="#0000ff" stroke="#000060" stroke-width="1.5"/>
<rect x="1149.0" y="752.2" width="34.4" height="146.2" fill="#ff0000" stroke="#6a0a0a" stroke-width="1.5"/>
<rect x="1192.5" y="760.8" width="34.6" height="137.6" fill="#000000" stroke="#000000" stroke-width="1.5"/>
<rect x="79.8" y="579.6" width="1185.2" height="318.8" fill="none" stroke="#626262" stroke-width="2.3"/>
<g stroke="#626262" stroke-width="1.8">
<line x1="198.3" y1="898.4" x2="198.3" y2="886.4"/>
<line x1="198.3" y1="579.6" x2="198.3" y2="591.6"/>
<line x1="435.4" y1="898.4" x2="435.4" y2="886.4"/>
<line x1="435.4" y1="579.6" x2="435.4" y2="591.6"/>
<line x1="672.4" y1="898.4" x2="672.4" y2="886.4"/>
<line x1="672.4" y1="579.6" x2="672.4" y2="591.6"/>
<line x1="909.4" y1="898.4" x2="909.4" y2="886.4"/>
<line x1="909.4" y1="579.6" x2="909.4" y2="591.6"/>
<line x1="1146.5" y1="898.4" x2="1146.5" y2="886.4"/>
<line x1="1146.5" y1="579.6" x2="1146.5" y2="591.6"/>
<line x1="79.8" y1="834.9" x2="91.8" y2="834.9"/>
<line x1="1265.0" y1="834.9" x2="1253.0" y2="834.9"/>
<line x1="79.8" y1="770.8" x2="91.8" y2="770.8"/>
<line x1="1265.0" y1="770.8" x2="1253.0" y2="770.8"/>
<line x1="79.8" y1="706.4" x2="91.8" y2="706.4"/>
<line x1="1265.0" y1="706.4" x2="1253.0" y2="706.4"/>
<line x1="79.8" y1="641.9" x2="91.8" y2="641.9"/>
<line x1="1265.0" y1="641.9" x2="1253.0" y2="641.9"/>
</g>
<g font-family="'Liberation Serif', serif" font-weight="bold" font-size="28.0" fill="#111111">
<text x="74.5" y="589.4" text-anchor="end">2.5</text>
<text x="74.5" y="651.7" text-anchor="end">2</text>
<text x="74.5" y="716.2" text-anchor="end">1.5</text>
<text x="74.5" y="780.6" text-anchor="end">1</text>
<text x="74.5" y="844.7" text-anchor="end">0.5</text>
<text x="74.5" y="908.3" text-anchor="end">0</text>
<text x="197.5" y="926.4" text-anchor="middle">1</text>
<text x="434.6" y="926.4" text-anchor="middle">2</text>
<text x="671.6" y="926.4" text-anchor="middle">3</text>
<text x="908.6" y="926.4" text-anchor="middle">4</text>
<text x="1145.7" y="926.4" text-anchor="middle">5</text>
<text x="583.9" y="954.5" textLength="173.4" lengthAdjust="spacingAndGlyphs">Cycle Number</text>
<text transform="translate(25.5,885) rotate(-90)" textLength="300.5" lengthAdjust="spacingAndGlyphs">Discharge Capacity (Ah)</text>
</g>
<text x="91.2" y="624.8" font-family="'Liberation Sans', sans-serif" font-weight="bold" font-size="42" fill="#0a0a0a" textLength="53.2" lengthAdjust="spacingAndGlyphs">(b)</text>
</g>
</svg>
</body>
</html>
